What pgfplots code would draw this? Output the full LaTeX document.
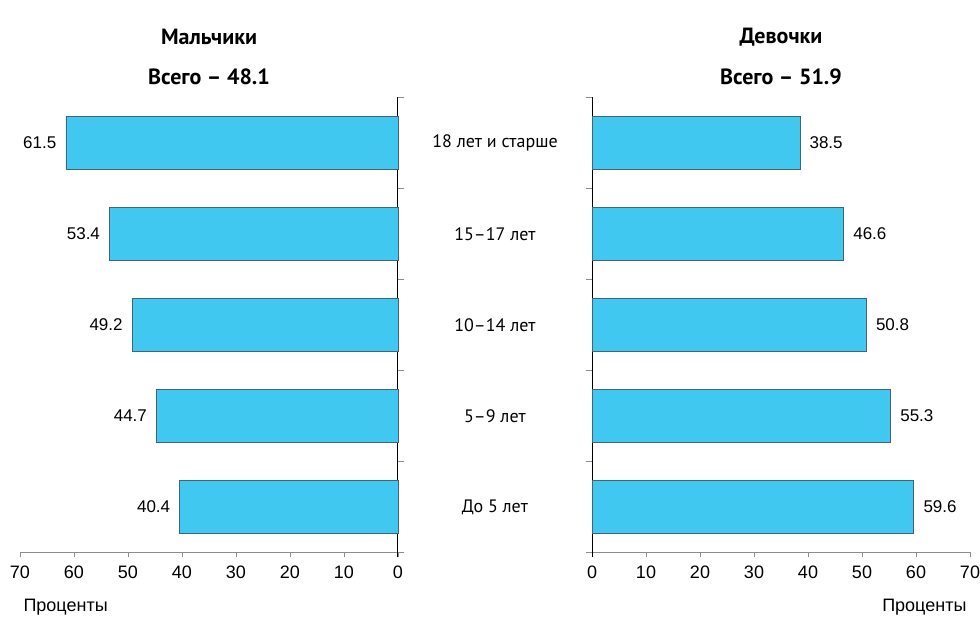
\documentclass[border=0pt]{standalone}
\usepackage{pgfplots}
\pgfplotsset{compat=1.18}
\usepackage{fontspec}
\setmainfont{Liberation Sans}
\newfontfamily\titlefont{PT Sans}
\newfontfamily\numfont{Liberation Sans}
\definecolor{barfill}{RGB}{64,200,240}
\definecolor{baredge}{RGB}{70,100,112}
\definecolor{tickgray}{RGB}{140,140,140}
\pgfplotsset{
  common/.style={
    scale only axis, width=378pt, height=455pt, anchor=south west,
    xbar, bar width=0.58,
    xmin=0, xmax=70, ymin=-0.5, ymax=4.5,
    xtick={0,10,...,70},
    ytick={-0.5,0.5,...,4.5}, yticklabels={},
    tick align=outside,
    axis x line*=bottom, 
    x axis line style={-, draw=tickgray, line width=0.8pt, shorten <=-6pt},
    y axis line style={-, draw=black, line width=1pt, shorten <=-5pt},
    xtick style={draw=tickgray, line width=0.8pt, /pgfplots/major tick length=5pt},
    ytick style={draw=tickgray, line width=0.8pt, /pgfplots/major tick length=6pt},
    /pgf/number format/assume math mode=true,
    xticklabel style={font=\numfont\fontsize{18}{20}\selectfont, yshift=-6pt},
    point meta=x,
    nodes near coords={\pgfmathprintnumber[fixed,precision=1,zerofill]{\pgfplotspointmeta}},
    clip=false,
  },
}
\begin{document}
\begin{tikzpicture}
\path[use as bounding box] (0,0) rectangle (980pt,616pt);
% Left: boys
\begin{axis}[common, at={(20pt,64pt)}, x dir=reverse, axis y line*=right,
  every node near coord/.append style={anchor=east, xshift=-6pt, font=\numfont\fontsize{17}{19}\selectfont}]
\addplot[fill=barfill, draw=baredge, line width=0.7pt] coordinates {
  (40.4,0) (44.7,1) (49.2,2) (53.4,3) (61.5,4)};
\end{axis}
% Right: girls
\begin{axis}[common, at={(592pt,64pt)}, axis y line*=left,
  every node near coord/.append style={anchor=west, xshift=6pt, font=\numfont\fontsize{17}{19}\selectfont}]
\addplot[fill=barfill, draw=baredge, line width=0.7pt] coordinates {
  (59.6,0) (55.3,1) (50.8,2) (46.6,3) (38.5,4)};
\end{axis}
% Category labels
\node[font=\titlefont\fontsize{18}{20}\selectfont] at (495pt,473pt) {18 лет и старше};
\node[font=\titlefont\fontsize{18}{20}\selectfont] at (495pt,382pt) {15–17 лет};
\node[font=\titlefont\fontsize{18}{20}\selectfont] at (495pt,291pt) {10–14 лет};
\node[font=\titlefont\fontsize{18}{20}\selectfont] at (495pt,200pt) {5–9 лет};
\node[font=\titlefont\fontsize{18}{20}\selectfont] at (495pt,109pt) {До 5 лет};
% Titles
\node[font=\titlefont\bfseries\fontsize{22}{24}\selectfont] at (209pt,579pt) {Мальчики};
\node[font=\titlefont\bfseries\fontsize{22}{24}\selectfont] at (209pt,539pt) {Всего – 48.1};
\node[font=\titlefont\bfseries\fontsize{22}{24}\selectfont] at (781pt,579pt) {Девочки};
\node[font=\titlefont\bfseries\fontsize{22}{24}\selectfont] at (781pt,539pt) {Всего – 51.9};
% Axis titles
\node[anchor=base west, font=\fontsize{18}{20}\selectfont] at (20pt,5pt) {Проценты};
\node[anchor=base east, font=\fontsize{18}{20}\selectfont] at (970pt,5pt) {Проценты};
\end{tikzpicture}
\end{document}
